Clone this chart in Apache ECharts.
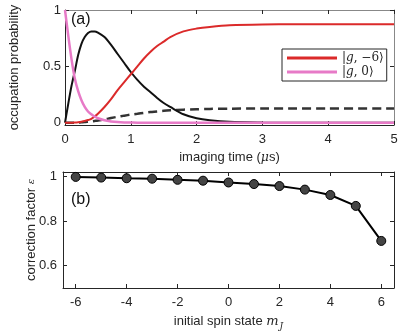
<!DOCTYPE html>
<html>
<head>
<meta charset="utf-8">
<script src="https://cdn.jsdelivr.net/npm/echarts@6/dist/echarts.min.js"></script>
<style>
  html, body { margin: 0; padding: 0; background: #fff; }
  #box { width: 415px; height: 332px; }
</style>
</head>
<body>
<div id="box"></div>
<script>
// (a) occupation probability vs imaging time (us)
var timeUs = [0, 0.05, 0.1, 0.15, 0.2, 0.25, 0.3, 0.35, 0.4, 0.45, 0.5, 0.6, 0.7, 0.8, 0.9, 1.0,
  1.1, 1.2, 1.3, 1.4, 1.5, 1.6, 1.8, 2.0, 2.2, 2.5, 3.0, 3.5, 4.0, 5.0]
var blackProb = [0, 0.17, 0.33, 0.46, 0.6, 0.7, 0.76, 0.795, 0.81, 0.81, 0.8, 0.76, 0.69, 0.61, 0.53, 0.45,
  0.38, 0.32, 0.27, 0.22, 0.175, 0.14, 0.075, 0.04, 0.022, 0.008, 0.002, 0, 0, 0]
var redProb = [0, 0, 0, 0.002, 0.005, 0.009, 0.015, 0.024, 0.035, 0.055, 0.08, 0.14, 0.21, 0.29, 0.36, 0.43,
  0.5, 0.57, 0.63, 0.68, 0.72, 0.76, 0.81, 0.835, 0.85, 0.865, 0.872, 0.873, 0.873, 0.873]
var pinkProb = [1, 0.77, 0.56, 0.39, 0.28, 0.2, 0.14, 0.1, 0.075, 0.055, 0.04, 0.022, 0.012, 0.006, 0.003, 0.002,
  0.001, 0.001, 0, 0, 0, 0, 0, 0, 0, 0, 0, 0, 0, 0]
var dashProb = [0, 0, 0, 0.001, 0.002, 0.004, 0.006, 0.009, 0.012, 0.016, 0.02, 0.03, 0.042, 0.053, 0.063, 0.072,
  0.08, 0.088, 0.095, 0.1, 0.106, 0.11, 0.116, 0.12, 0.123, 0.125, 0.127, 0.127, 0.127, 0.127]

// (b) correction factor vs initial spin state
var spinStates = [-6, -5, -4, -3, -2, -1, 0, 1, 2, 3, 4, 5, 6]
var correction = [0.998, 0.995, 0.992, 0.99, 0.985, 0.981, 0.973, 0.966, 0.957, 0.941, 0.917, 0.868, 0.711]

var probTicks = [0, 0.5, 1]
var corrTicks = [0.6, 0.8, 1]
var spinTicks = [-6, -4, -2, 0, 2, 4, 6]

var ink = '#262626'
var font = 'Liberation Sans'

function pairs(xs, ys) {
  return xs.map(function (x, i) { return [x, ys[i]] })
}

function boxAxis(extra) {
  return Object.assign({
    axisLine: { show: true, onZero: false, lineStyle: { color: ink, width: 1 } },
    axisTick: { show: true, inside: true, length: 4, lineStyle: { color: ink } },
    splitLine: { show: false },
    axisLabel: { show: false }
  }, extra)
}

var labelStyle = { show: true, color: ink, fontFamily: font, fontSize: 13 }
var nameStyle = { color: ink, fontFamily: font, fontSize: 13 }

var Chart = echarts.init(document.getElementById('box'))
var option = {
  animation: false,
  backgroundColor: '#fff',
  grid: [
    { left: 63, top: 10, width: 331, height: 115 },
    { left: 63, top: 172, width: 331, height: 116 }
  ],
  xAxis: [
    boxAxis({
      gridIndex: 0, type: 'value', min: 0, max: 5, interval: 1,
      axisLabel: Object.assign({ margin: 8 }, labelStyle),
      name: 'imaging time ({i|μ}s)', nameLocation: 'middle', nameGap: 26,
      nameTextStyle: Object.assign({
        rich: { i: { fontFamily: 'DejaVu Serif', fontStyle: 'italic', fontSize: 12.5, color: ink } }
      }, nameStyle)
    }),
    boxAxis({ gridIndex: 0, type: 'value', min: 0, max: 5, interval: 1, position: 'top',
      axisLine: { show: true, onZero: false, lineStyle: { color: '#888', width: 1 } } }),
    boxAxis({
      gridIndex: 1, type: 'value', min: -6.5, max: 6.5,
      axisLabel: Object.assign({ margin: 8, customValues: spinTicks }, labelStyle),
      axisTick: { show: true, inside: true, length: 4, lineStyle: { color: ink }, customValues: spinTicks },
      name: 'initial spin state {i|m}{s|J}', nameLocation: 'middle', nameGap: 24,
      nameTextStyle: Object.assign({
        rich: {
          i: { fontFamily: 'DejaVu Serif', fontStyle: 'italic', fontSize: 13, color: ink },
          s: { fontFamily: 'DejaVu Serif', fontStyle: 'italic', fontSize: 9, color: ink, padding: [10, 0, 0, 1] }
        }
      }, nameStyle)
    }),
    boxAxis({ gridIndex: 1, type: 'value', min: -6.5, max: 6.5, position: 'top',
      axisTick: { show: true, inside: true, length: 4, lineStyle: { color: ink }, customValues: spinTicks } })
  ],
  yAxis: [
    boxAxis({
      gridIndex: 0, type: 'value', min: -0.02, max: 1,
      axisLabel: Object.assign({ margin: 4, customValues: probTicks }, labelStyle),
      axisTick: { show: true, inside: true, length: 4, lineStyle: { color: ink }, customValues: probTicks },
      name: 'occupation probability', nameLocation: 'middle', nameGap: 44,
      nameTextStyle: nameStyle
    }),
    boxAxis({ gridIndex: 0, type: 'value', min: -0.02, max: 1, position: 'right',
      axisLine: { show: true, onZero: false, lineStyle: { color: '#888', width: 1 } },
      axisTick: { show: true, inside: true, length: 4, lineStyle: { color: ink }, customValues: probTicks } }),
    boxAxis({
      gridIndex: 1, type: 'value', min: 0.5, max: 1.02,
      axisLabel: Object.assign({ margin: 6, customValues: corrTicks }, labelStyle),
      axisTick: { show: true, inside: true, length: 4, lineStyle: { color: ink }, customValues: corrTicks },
      name: 'correction factor {e|ε}', nameLocation: 'middle', nameGap: 25,
      nameMoveOverlap: false,
      nameTextStyle: Object.assign({
        rich: { e: { fontFamily: 'DejaVu Serif', fontStyle: 'italic', fontSize: 10, color: ink } }
      }, nameStyle)
    }),
    boxAxis({ gridIndex: 1, type: 'value', min: 0.5, max: 1.02, position: 'right',
      axisTick: { show: true, inside: true, length: 4, lineStyle: { color: ink }, customValues: corrTicks } })
  ],
  legend: {
    data: ['g-6', 'g0'],
    orient: 'vertical',
    left: 282, top: 49,
    padding: [3, 3, 3, 5],
    itemGap: 2,
    itemWidth: 50, itemHeight: 3,
    icon: 'rect',
    borderColor: ink, borderWidth: 1,
    backgroundColor: '#fff',
    formatter: function (name) {
      return name === 'g-6' ? '{b||}{i|g}{b|, −6⟩}' : '{b||}{i|g}{b|, 0⟩}'
    },
    textStyle: {
      color: ink,
      rich: {
        b: { fontFamily: 'DejaVu Serif', fontSize: 12, color: ink },
        i: { fontFamily: 'DejaVu Serif', fontStyle: 'italic', fontSize: 12, color: ink }
      }
    }
  },
  graphic: [
    { type: 'text', left: 71, top: 12, style: { text: '(a)', fontFamily: font, fontSize: 16, fill: '#111' } },
    { type: 'text', left: 71, top: 192, style: { text: '(b)', fontFamily: font, fontSize: 16, fill: '#111' } }
  ],
  series: [
    {
      name: 'dash', type: 'line', xAxisIndex: 0, yAxisIndex: 0, showSymbol: false, smooth: 0.3,
      data: pairs(timeUs, dashProb),
      lineStyle: { color: '#333', width: 2.5, type: [9, 5] }, z: 2
    },
    {
      name: 'black', type: 'line', xAxisIndex: 0, yAxisIndex: 0, showSymbol: false, smooth: 0.3,
      data: pairs(timeUs, blackProb),
      lineStyle: { color: '#111', width: 2 }, z: 3
    },
    {
      name: 'g-6', type: 'line', xAxisIndex: 0, yAxisIndex: 0, showSymbol: false, smooth: 0.3,
      data: pairs(timeUs, redProb),
      itemStyle: { color: '#db2a2a' },
      lineStyle: { color: '#db2a2a', width: 2 }, z: 4
    },
    {
      name: 'g0', type: 'line', xAxisIndex: 0, yAxisIndex: 0, showSymbol: false, smooth: 0.3,
      data: pairs(timeUs, pinkProb),
      itemStyle: { color: '#e77ac7' },
      lineStyle: { color: '#e77ac7', width: 2.5 }, z: 5
    },
    {
      name: 'eps', type: 'line', xAxisIndex: 2, yAxisIndex: 2,
      data: pairs(spinStates, correction),
      symbol: 'circle', symbolSize: 9,
      itemStyle: { color: '#444', borderColor: '#000', borderWidth: 1 },
      lineStyle: { color: '#000', width: 2 }
    }
  ]
}
Chart.setOption(option)
</script>
</body>
</html>
